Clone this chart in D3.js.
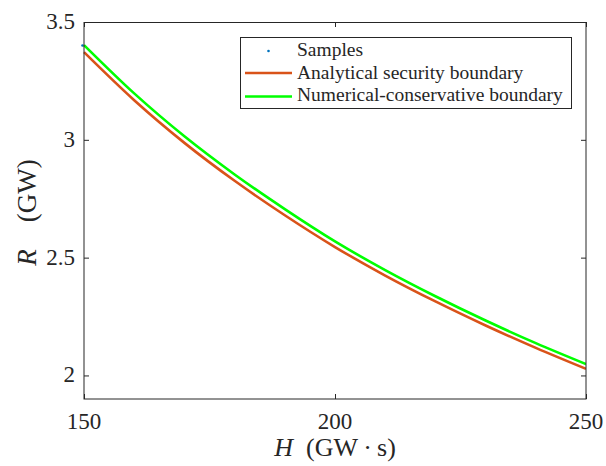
<!DOCTYPE html>
<html>
<head>
<meta charset="utf-8">
<script src="https://cdn.jsdelivr.net/npm/d3@7"></script>
<style>
  html, body { margin: 0; padding: 0; background: #fff; }
  svg { display: block; }
</style>
</head>
<body>
<svg id="chart" width="606" height="466"></svg>
<script>
// ---- data ----
const inertiaH = [150, 160, 170, 180, 190, 200, 210, 220, 230, 240, 250];
const analyticalR = [3.372, 3.168, 2.987, 2.826, 2.680, 2.545, 2.424, 2.314, 2.212, 2.117, 2.028];
const numericalR  = [3.402, 3.197, 3.015, 2.853, 2.706, 2.569, 2.447, 2.336, 2.233, 2.137, 2.048];
const sampleH = [150];
const sampleR = [3.400];
const xTicks = [150, 200, 250];
const yTicks = [2, 2.5, 3, 3.5];
const legendLabels = ["Samples", "Analytical security boundary", "Numerical-conservative boundary"];

// ---- layout ----
const FONT = "'Liberation Serif', 'DejaVu Serif', serif";
const svg = d3.select("#chart");
const L = 84, R = 586, T = 22, B = 399;
const x = d3.scaleLinear().domain([150, 250]).range([L, R]);
const y = d3.scaleLinear().domain([1.9, 3.5]).range([B, T]);
const axisColor = "#262626";

const g = svg.append("g").attr("font-family", FONT).attr("fill", axisColor);

svg.append("clipPath").attr("id", "clip").append("rect")
  .attr("x", L - 3).attr("y", T).attr("width", R - L + 3).attr("height", B - T);

// samples
g.append("g").attr("clip-path", "url(#clip)").selectAll("circle")
  .data(sampleH.map((h, i) => [h, sampleR[i]]))
  .enter().append("circle")
  .attr("cx", d => x(d[0]) - 1.5).attr("cy", d => y(d[1]))
  .attr("r", 1.3).attr("fill", "#0072BD");

const line = d3.line().curve(d3.curveMonotoneX).x(d => x(d[0])).y(d => y(d[1]));
const plot = g.append("g").attr("clip-path", "url(#clip)");
plot.append("path").datum(inertiaH.map((h, i) => [h, analyticalR[i]]))
  .attr("d", line).attr("fill", "none").attr("stroke", "#D95319").attr("stroke-width", 2.6);
plot.append("path").datum(inertiaH.map((h, i) => [h, numericalR[i]]))
  .attr("d", line).attr("fill", "none").attr("stroke", "#00FF00").attr("stroke-width", 2.6);

// axes (box with inward ticks)
const xAxisB = d3.axisBottom(x).tickValues(xTicks).tickSize(-5).tickFormat("");
const xAxisT = d3.axisTop(x).tickValues(xTicks).tickSize(-5).tickFormat("");
const yAxisL = d3.axisLeft(y).tickValues(yTicks).tickSize(-5).tickFormat("");
const yAxisR = d3.axisRight(y).tickValues(yTicks).tickSize(-5).tickFormat("");
function style(sel) {
  sel.selectAll("line").attr("stroke", axisColor).attr("stroke-width", 1);
  sel.select(".domain").remove();
}
g.append("g").attr("transform", `translate(0,${B})`).call(xAxisB).call(style);
g.append("g").attr("transform", `translate(0,${T})`).call(xAxisT).call(style);
g.append("g").attr("transform", `translate(${L},0)`).call(yAxisL).call(style);
g.append("g").attr("transform", `translate(${R},0)`).call(yAxisR).call(style);
g.append("rect").attr("x", L).attr("y", T + 0.5).attr("width", R - L).attr("height", B - T - 0.5)
  .attr("fill", "none").attr("stroke", axisColor).attr("stroke-width", 1);

// tick labels
g.selectAll(".xl").data(xTicks).enter().append("text")
  .attr("x", d => x(d)).attr("y", B + 30).attr("text-anchor", "middle")
  .attr("font-family", FONT).attr("font-size", 23).text(d => d);
g.selectAll(".yl").data(yTicks).enter().append("text")
  .attr("x", L - 9).attr("y", d => y(d) + 7).attr("text-anchor", "end")
  .attr("font-family", FONT).attr("font-size", 23).text(d => d);

// axis titles
const xt = g.append("text").attr("x", (L + R) / 2).attr("y", 456)
  .attr("text-anchor", "middle").attr("font-family", FONT).attr("font-size", 26);
xt.append("tspan").attr("font-style", "italic").text("H");
xt.append("tspan").text("\u2002(GW\u2009\u00B7\u2009s)");

const yt = g.append("text").attr("transform", `translate(36,${(T + B) / 2 + 2}) rotate(-90)`)
  .attr("text-anchor", "middle").attr("font-family", FONT).attr("font-size", 27);
yt.append("tspan").attr("font-style", "italic").text("R");
yt.append("tspan").text("\u2003(GW)");

// legend
const lg = g.append("g");
lg.append("rect").attr("x", 240.5).attr("y", 37.5).attr("width", 331).attr("height", 71)
  .attr("fill", "#fff").attr("stroke", axisColor).attr("stroke-width", 1);
const legendY = [56, 78.5, 101];
lg.append("circle").attr("cx", 268.5).attr("cy", 51).attr("r", 1.3).attr("fill", "#0072BD");
lg.append("line").attr("x1", 245).attr("x2", 292).attr("y1", 73).attr("y2", 73)
  .attr("stroke", "#D95319").attr("stroke-width", 2.6);
lg.append("line").attr("x1", 245).attr("x2", 292).attr("y1", 96.5).attr("y2", 96.5)
  .attr("stroke", "#00FF00").attr("stroke-width", 2.6);
lg.selectAll(".lt").data(legendLabels).enter().append("text")
  .attr("x", 297).attr("y", (d, i) => legendY[i])
  .attr("font-family", FONT).attr("font-size", 19.5).text(d => d);
</script>
</body>
</html>
